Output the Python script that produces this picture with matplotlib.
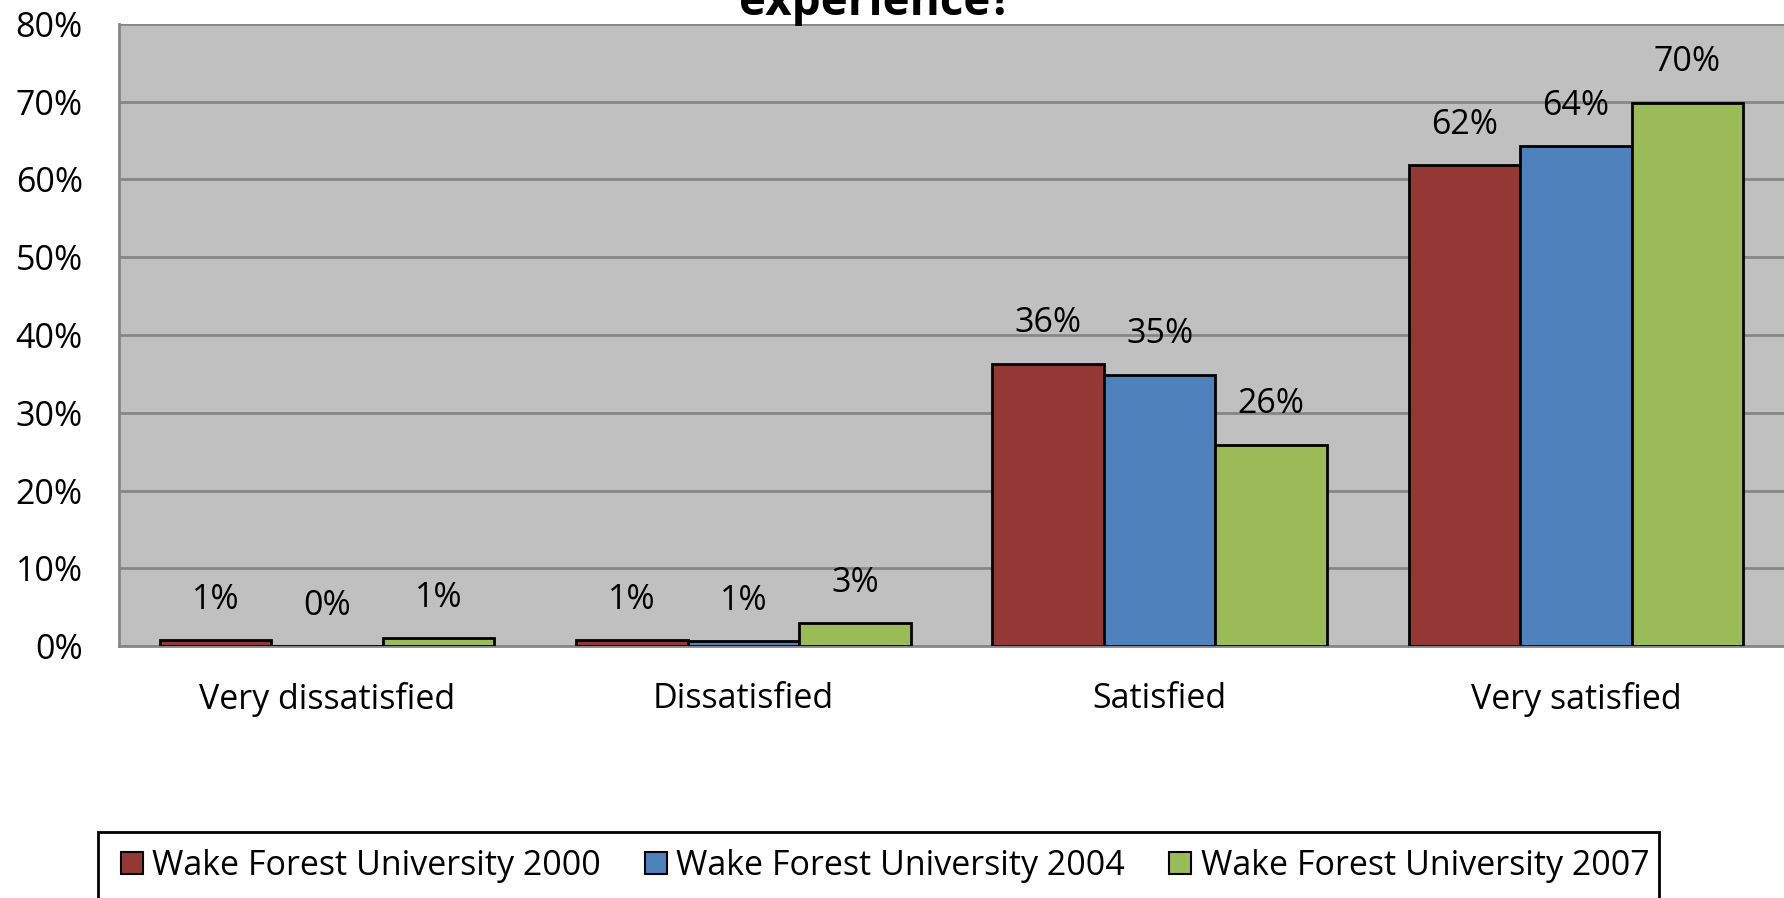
import matplotlib
matplotlib.use("Agg")
import matplotlib.pyplot as plt
import numpy as np
from matplotlib.patches import Rectangle

# Data
categories = ["Very dissatisfied", "Dissatisfied", "Satisfied", "Very satisfied"]
series_names = ["Wake Forest University 2000", "Wake Forest University 2004", "Wake Forest University 2007"]
values_2000 = [0.8, 0.8, 36.3, 61.8]
values_2004 = [0.0, 0.6, 34.9, 64.3]
values_2007 = [1.0, 2.9, 25.9, 69.9]
labels_2000 = ["1%", "1%", "36%", "62%"]
labels_2004 = ["0%", "1%", "35%", "64%"]
labels_2007 = ["1%", "3%", "26%", "70%"]
y_ticks = [0, 10, 20, 30, 40, 50, 60, 70, 80]

colors = ["#953735", "#4F81BD", "#9BBB59"]
fs = 24.5

plt.rcParams['font.family'] = ['Open Sans', 'DejaVu Sans']

fig = plt.figure(figsize=(17.84, 8.98), dpi=100)
ax = fig.add_axes([0.0667, 0.2806, 0.9333, 0.6927])
ax.set_facecolor("#C0C0C0")

x = np.arange(len(categories))
width = 0.268
all_values = [values_2000, values_2004, values_2007]
all_labels = [labels_2000, labels_2004, labels_2007]

for i, (vals, labs) in enumerate(zip(all_values, all_labels)):
    pos = x + (i - 1) * width
    ax.bar(pos, vals, width, color=colors[i], edgecolor="black", linewidth=2,
           label=series_names[i], zorder=3)
    # value labels above each bar
    for px, v, lab in zip(pos, vals, labs):
        ax.annotate(lab, (px, v), xytext=(0, 29), textcoords="offset points",
                    ha="center", va="center", fontsize=fs)

ax.set_xlim(-0.5, 3.5)
ax.set_ylim(0, 80)
ax.set_yticks(y_ticks)
ax.set_yticklabels([f"{t}%" for t in y_ticks], fontsize=fs)
ax.set_xticks(x)
ax.set_xticklabels(categories, fontsize=fs)
ax.tick_params(axis="y", length=0, pad=26)
ax.tick_params(axis="x", length=0, pad=26)

ax.grid(axis="y", color="#868686", linewidth=2, zorder=1)
for s in ["top", "right"]:
    ax.spines[s].set_visible(False)
for s in ["left", "bottom"]:
    ax.spines[s].set_color("#868686")
    ax.spines[s].set_linewidth(2)

# title, cut off at the top like the original
fig.text(876 / 1784, 1 - 15 / 898, "experience?", ha="center", va="baseline",
         fontsize=33, fontweight="bold")

# legend with a plain black box that runs off the bottom
handles, lbls = ax.get_legend_handles_labels()
leg = fig.legend(handles, lbls, ncol=3, loc="center", frameon=False,
                 bbox_to_anchor=(885 / 1784, 1 - 866 / 898), fontsize=fs,
                 handlelength=0.65, handleheight=0.65, handletextpad=0.27,
                 columnspacing=1.3)
for h in leg.legend_handles:
    h.set_linewidth(1.5)
fig.patches.append(Rectangle((98 / 1784, -0.05), (1659 - 98) / 1784, 0.05 + (898 - 832) / 898,
                             transform=fig.transFigure, fill=False, edgecolor="black",
                             linewidth=2))

fig.savefig("out.png", dpi=100)
